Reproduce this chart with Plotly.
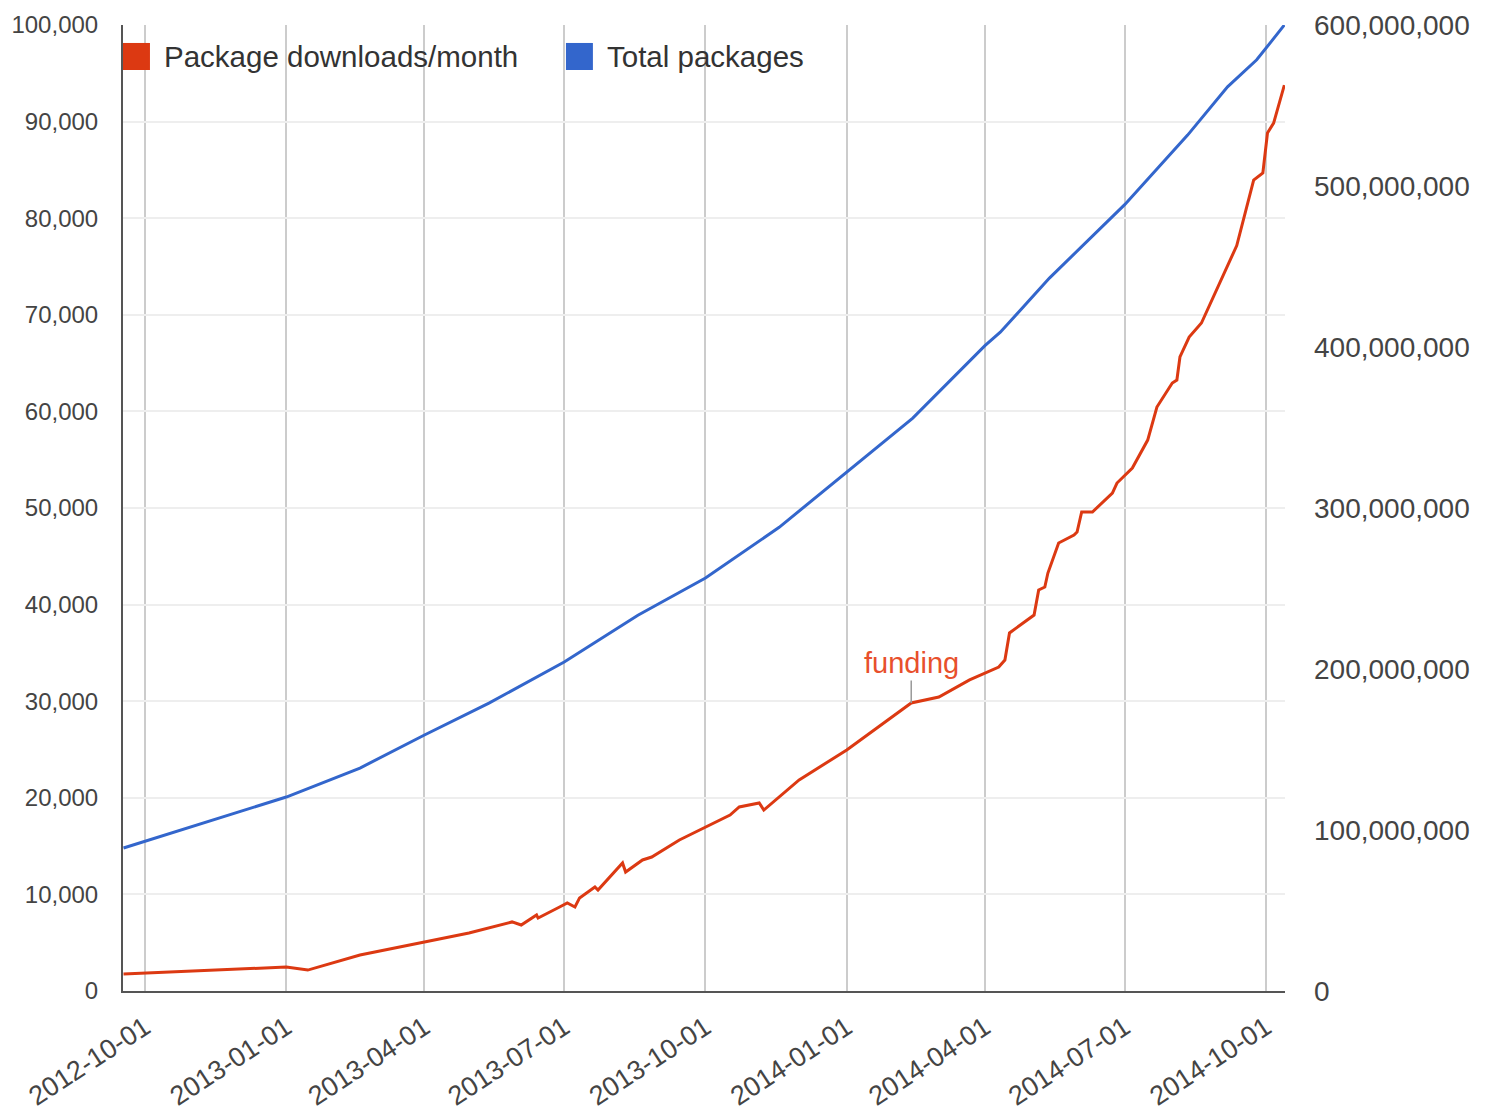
import plotly.graph_objects as go

# Total packages (left axis)
pkg_dates = ["2012-09-17", "2013-01-01", "2013-02-18", "2013-04-01", "2013-05-13", "2013-07-01",
             "2013-08-18", "2013-10-01", "2013-11-18", "2014-01-01", "2014-02-13", "2014-04-01",
             "2014-04-11", "2014-05-13", "2014-07-01", "2014-08-11", "2014-09-06",
             "2014-09-25", "2014-10-13"]
pkg_values = [14800, 20080, 23080, 26500, 29800, 34060, 38900, 42750, 48000, 53700, 59300, 66800,
              68200, 73800, 81400, 88600, 93600, 96400, 100000]

# Package downloads per month (right axis)
dl_dates = ["2012-09-17", "2013-01-01", "2013-01-15", "2013-02-18", "2013-04-01", "2013-04-30",
            "2013-05-28", "2013-06-03", "2013-06-13", "2013-06-14", "2013-06-28", "2013-07-03",
            "2013-07-08", "2013-07-11", "2013-07-21", "2013-07-23", "2013-08-08", "2013-08-10",
            "2013-08-21", "2013-08-27", "2013-09-14", "2013-09-27", "2013-10-17", "2013-10-23",
            "2013-11-05", "2013-11-08", "2013-12-01", "2014-01-01", "2014-02-12", "2014-03-02",
            "2014-03-22", "2014-04-10", "2014-04-14", "2014-04-17", "2014-05-03", "2014-05-06",
            "2014-05-10", "2014-05-12", "2014-05-19", "2014-05-29", "2014-05-31", "2014-06-03",
            "2014-06-10", "2014-06-23", "2014-06-26", "2014-07-06", "2014-07-16", "2014-07-22",
            "2014-08-01", "2014-08-04", "2014-08-06", "2014-08-12", "2014-08-20", "2014-09-12",
            "2014-09-23", "2014-09-29", "2014-10-02", "2014-10-06", "2014-10-13"]
dl_values = [10.6, 14.9, 13.0, 22.4, 30.4, 36.0, 42.9, 41.0, 47.2, 45.3, 52.2, 54.7,
             52.2, 57.8, 64.6, 62.7, 79.5, 73.9, 81.4, 83.2, 93.8, 100.0, 109.3, 114.3,
             116.8, 112.4, 131.1, 149.7, 178.9, 182.6, 193.2, 201.2, 205.6, 222.4, 233.5, 249.1,
             250.9, 259.6, 278.3, 283.2, 285.1, 297.5, 297.5, 309.3, 315.5, 324.8, 342.2, 362.7,
             377.6, 379.5, 393.8, 406.2, 414.9, 463.0, 503.7, 508.1, 532.9, 539.1, 562.7]
dl_values = [v * 1e6 for v in dl_values]

x_ticks = ["2012-10-01", "2013-01-01", "2013-04-01", "2013-07-01", "2013-10-01",
           "2014-01-01", "2014-04-01", "2014-07-01", "2014-10-01"]

series_names = ["Package downloads/month", "Total packages"]

funding_date = "2014-02-12"
funding_value = 178.9e6

RED = "#dc3912"
BLUE = "#3366cc"
FONT = "Liberation Sans, Arial, sans-serif"

fig = go.Figure()
fig.add_trace(go.Scatter(x=dl_dates, y=dl_values, mode="lines", yaxis="y2", name=series_names[0],
                         line=dict(color=RED, width=3)))
fig.add_trace(go.Scatter(x=pkg_dates, y=pkg_values, mode="lines", yaxis="y", name=series_names[1],
                         line=dict(color=BLUE, width=3)))

# Custom legend with large square swatches (Google-Charts style)
legend_items = [(series_names[0], RED, 0.0), (series_names[1], BLUE, 0.3812)]
for name, color, x0 in legend_items:
    fig.add_shape(type="rect", xref="paper", yref="paper",
                  x0=x0, x1=x0 + 0.0232, y0=0.9534, y1=0.9814,
                  fillcolor=color, line=dict(width=0))
    fig.add_annotation(xref="paper", yref="paper", x=x0 + 0.0335, y=0.9674,
                       xanchor="left", yanchor="middle", text=name, showarrow=False,
                       font=dict(family=FONT, size=29.5, color="#333333"))

fig.add_annotation(x=funding_date, y=funding_value, xref="x", yref="y2", text="funding",
                   showarrow=True, arrowhead=0, arrowwidth=1.5, arrowcolor="#999999",
                   ax=0, ay=-40, font=dict(family=FONT, size=29, color="#e8502c"))

# the page body adds an 8px offset, so the figure size is reduced accordingly
fig.update_layout(
    width=1477, height=1106,
    margin=dict(l=115, r=200, t=17, b=123),
    paper_bgcolor="white", plot_bgcolor="white",
    font=dict(family=FONT, color="#444444"),
    showlegend=False,
    xaxis=dict(type="date", range=["2012-09-16 16:00", "2014-10-13 10:00"],
               tickvals=x_ticks, ticktext=x_ticks, tickangle=-33,
               tickfont=dict(size=27, color="#444444"),
               showgrid=True, gridcolor="#cccccc", gridwidth=1.5,
               showline=True, linecolor="#555555", linewidth=2,
               ticks="", ticklabelstandoff=8, zeroline=False, automargin=False),
    yaxis=dict(range=[0, 100000], dtick=10000, tickformat=",d",
               tickfont=dict(size=24, color="#444444"),
               showgrid=True, gridcolor="#eeeeee", gridwidth=1.5,
               showline=True, linecolor="#555555", linewidth=2,
               ticks="", ticklabelstandoff=18, zeroline=False, automargin=False),
    yaxis2=dict(range=[0, 600e6], dtick=100e6, tickformat=",d", overlaying="y", side="right",
                tickfont=dict(size=28, color="#444444"), showgrid=False, showline=False,
                ticks="", ticklabelstandoff=28, zeroline=False, automargin=False),
)

fig.write_html("out.html")
